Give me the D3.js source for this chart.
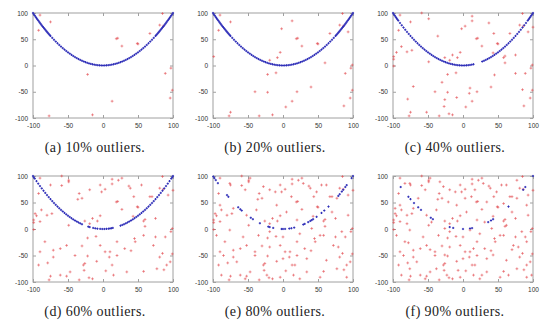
<!DOCTYPE html>
<html>
<head>
<meta charset="utf-8">
<script src="https://cdn.jsdelivr.net/npm/d3@7"></script>
<style>
  body { margin: 0; background: #fff; }
</style>
</head>
<body>
<div id="chart"></div>
<script>
// tick values shared by every panel
const ticks = [-100, -50, 0, 50, 100];

const captions = ["(a) 10% outliers.", "(b) 20% outliers.", "(c) 40% outliers.",
                  "(d) 60% outliers.", "(e) 80% outliers.", "(f) 90% outliers."];

// inliers (blue)
const inliersFull = [
  [-100,100],[-98.8,97.6],[-97.5,95.1],[-96.2,92.5],[-95,90.3],[-93.8,88],[-92.5,85.6],[-91.2,83.2],[-90,81],
  [-88.8,78.9],[-87.5,76.6],[-86.2,74.3],[-85,72.3],[-83.8,70.2],[-82.5,68.1],[-81.2,65.9],[-80,64],[-78.8,62.1],
  [-77.5,60.1],[-76.2,58.1],[-75,56.3],[-72.5,52.6],[-70,49],[-67.5,45.6],[-65,42.3],[-62.5,39.1],[-60,36],
  [-57.5,33.1],[-55,30.3],[-52.5,27.6],[-50,25],[-47.5,22.6],[-45,20.3],[-42.5,18.1],[-40,16],[-37.5,14.1],
  [-35,12.3],[-32.5,10.6],[-30,9],[-27.5,7.6],[-25,6.3],[-22.5,5.1],[-20,4],[-17.5,3.1],[-15,2.3],[-12.5,1.6],
  [-10,1],[-7.5,0.6],[-5,0.3],[-2.5,0.1],[0,0],[2.5,0.1],[5,0.3],[7.5,0.6],[10,1],[12.5,1.6],[15,2.3],[17.5,3.1],
  [20,4],[22.5,5.1],[25,6.3],[27.5,7.6],[30,9],[32.5,10.6],[35,12.3],[37.5,14.1],[40,16],[42.5,18.1],[45,20.3],
  [47.5,22.6],[50,25],[52.5,27.6],[55,30.3],[57.5,33.1],[60,36],[62.5,39.1],[65,42.3],[67.5,45.6],[70,49],
  [72.5,52.6],[75,56.3],[76.2,58.1],[77.5,60.1],[78.8,62.1],[80,64],[81.2,65.9],[82.5,68.1],[83.8,70.2],[85,72.3],
  [86.2,74.3],[87.5,76.6],[88.8,78.9],[90,81],[91.2,83.2],[92.5,85.6],[93.8,88],[95,90.3],[96.2,92.5],[97.5,95.1],
  [98.8,97.6],[100,100]
];

const inliersC = [
  [-100,100],[-98.8,97.6],[-97.5,95.1],[-96.2,92.5],[-95,90.3],[-93.8,88],[-92.5,85.6],[-90,81],[-87.5,76.6],
  [-85,72.3],[-82.5,68.1],[-80,64],[-77.5,60.1],[-75,56.3],[-72.5,52.6],[-70,49],[-67.5,45.6],[-65,42.3],
  [-62.5,39.1],[-60,36],[-57.5,33.1],[-55,30.3],[-52.5,27.6],[-50,25],[-47.5,22.6],[-45,20.3],[-42.5,18.1],
  [-40,16],[-37.5,14.1],[-35,12.3],[-32.5,10.6],[-30,9],[-27.5,7.6],[-25,6.3],[-22.5,5.1],[-20,4],[-17.5,3.1],
  [-15,2.3],[-12.5,1.6],[-10,1],[-7.5,0.6],[-5,0.3],[-2.5,0.1],[0,0],[2.5,0.1],[5,0.3],[7.5,0.6],[10,1],
  [12.5,1.6],[15,2.3],[27.5,7.6],[30,9],[32.5,10.6],[35,12.3],[37.5,14.1],[40,16],[42.5,18.1],[45,20.3],
  [47.5,22.6],[50,25],[52.5,27.6],[55,30.3],[57.5,33.1],[60,36],[62.5,39.1],[65,42.3],[67.5,45.6],[70,49],
  [72.5,52.6],[75,56.3],[77.5,60.1],[80,64],[82.5,68.1],[85,72.3],[87.5,76.6],[90,81],[92.5,85.6],[93.8,88],
  [95,90.3],[96.2,92.5],[97.5,95.1],[98.8,97.6],[100,100]
];

const inliersD = [
  [-100,100],[-98.8,97.6],[-97.5,95.1],[-95,90.3],[-92.5,85.6],[-90,81],[-87.5,76.6],[-85,72.3],[-82.5,68.1],
  [-80,64],[-77.5,60.1],[-75,56.3],[-72.5,52.6],[-70,49],[-67.5,45.6],[-65,42.3],[-62.5,39.1],[-60,36],
  [-57.5,33.1],[-55,30.3],[-52.5,27.6],[-50,25],[-47.5,22.6],[-45,20.3],[-42.5,18.1],[-40,16],[-37.5,14.1],
  [-35,12.3],[-32.5,10.6],[-30,9],[-21,4.4],[-19,3.6],[-14,2],[-11,1.2],[-8,0.6],[-4,0.2],[-1,0],[2,0],[5,0.3],
  [8,0.6],[10,1],[12,1.4],[14,2],[25,6.3],[27.5,7.6],[30,9],[32.5,10.6],[35,12.3],[37.5,14.1],[40,16],
  [42.5,18.1],[45,20.3],[47.5,22.6],[50,25],[52.5,27.6],[55,30.3],[57.5,33.1],[60,36],[62.5,39.1],[65,42.3],
  [67.5,45.6],[70,49],[72.5,52.6],[75,56.3],[77.5,60.1],[80,64],[82.5,68.1],[85,72.3],[87.5,76.6],[90,81],
  [92.5,85.6],[95,90.3],[97.5,95.1],[98.8,97.6],[100,100]
];

const inliersE = [
  [-99.5,99],[-98,96],[-96,92.2],[-93,86.5],[-80,64],[-78,60.8],[-64,41],[-61,37.2],[-59,34.8],[-46,21.2],
  [-43,18.5],[-33,10.9],[-21,4.4],[-19,3.6],[-14,2],[-2,0],[0,0],[3,0.1],[9,0.8],[12,1.4],[16,2.6],[29,8.4],
  [31,9.6],[36,13],[39,15.2],[41,16.8],[43,18.5],[48,23],[55,30.3],[59,34.8],[65,42.3],[79,62.4],[81,65.6],
  [84,70.6],[86,74],[89,79.2],[91,82.8],[98,96],[100,100]
];

const inliersF = [
  [-89,79.2],[-78,60.8],[-75,56.3],[-70,49],[-64,41],[-60,36],[-46,21.2],[-43,18.5],[-19,3.6],[-14,2],
  [0,0],[10,1],[13,1.7],[36,13],[40,16],[43,18.5],[65,42.3],[86,74],[89,79.2],[100,100]
];

// outliers (red); each panel adds new ones on top of the previous panel's
const outliersA = [
  [-90,96],[-75,83],[-92,67],[-22,-17],[-77,-96],[-15,-94],[13,-68],[19,51],[21,52],[27,37],
  [49,42],[50,41],[67,61],[81,77],[85,99],[89,-15],[97,-5],[96,-62],[99,-47],[86,75]
];
const outliersB = [
  [13,85],[-2,70],[-4,25],[-8,15],[-19,10],[60,5],[-10,-14],[99,1],[-40,-50],[-22,-51],
  [20,-50],[40,-41],[4,-79],[87,-77],[-75,-89],[-34,-96],[93,64],[-99,17]
];
const outliersC = [
  [-59,100],[-49,89],[13,94],[3,75],[37,81],[100,73],[44,61],[-36,56],[-88,36],[-95,25],
  [-73,29],[-80,26],[-99,12],[-99,-1],[-49,7],[-26,15],[-15,20],[60,18],[75,20],[43,24],
  [45,-18],[75,-15],[-30,-32],[-71,-40],[10,-43],[9,-53],[85,-46],[-9,-61],[-79,-64],[-26,-65],
  [-27,-78],[-52,-89],[-20,-92],[58,15]
];
const outliersD = [
  [-59,82],[-49,92],[-34,67],[-30,58],[-19,74],[-4,83],[22,92],[27,96],[39,77],[55,83],
  [70,61],[-97,29],[-90,14],[-83,-24],[-61,-37],[-71,-53],[-90,-43],[-92,-68],[-52,-31],[-47,-81],
  [-28,-68],[-4,-31],[3,-43],[20,-24],[31,-37],[46,-24],[58,-12],[72,-31],[81,-53],[91,-68],
  [77,-75],[58,-80],[34,-81],[15,-87],[-61,-87]
];
const outliersE = [
  [-76,86],[-54,74],[-47,96],[-28,80],[-11,70],[12,61],[29,86],[48,70],[62,83],[77,58],
  [-90,45],[-71,39],[-52,26],[-38,36],[-9,45],[5,32],[20,17],[41,1],[70,32],[93,26],
  [-95,-12],[-76,-2],[-57,-15],[-35,-12],[-19,-5],[0,-15],[24,-9],[53,-12],[84,-5],
  [-85,-50],[-66,-62],[-40,-43],[-19,-34],[0,-56],[17,-68],[34,-56],[62,-59],[79,-34],
  [-88,-87],[-54,-94],[-23,-87],[-4,-91],[24,-94],[53,-91],[91,-91]
];
const outliersF = [
  [-83,86],[-64,58],[-33,89],[-21,51],[3,58],[17,74],[34,51],[58,48],[77,92],[91,45],
  [-97,39],[-80,10],[-45,13],[-26,1],[10,-2],[31,13],[62,7],
  [-78,-26],[-47,-39],[-26,-49],[15,-37],[43,-49],[70,-39],[91,-24],
  [-76,-75],[-38,-75],[-7,-78],[27,-87],[65,-87],[98,-87]
];

const outA = outliersA;
const outB = outA.concat(outliersB);
const outC = outB.concat(outliersC);
const outD = outC.concat(outliersD);
const outE = outD.concat(outliersE);
const outF = outE.concat(outliersF);

const panels = [
  { caption: captions[0], inliers: inliersFull, outliers: outA },
  { caption: captions[1], inliers: inliersFull, outliers: outB },
  { caption: captions[2], inliers: inliersC,    outliers: outC },
  { caption: captions[3], inliers: inliersD,    outliers: outD },
  { caption: captions[4], inliers: inliersE,    outliers: outE },
  { caption: captions[5], inliers: inliersF,    outliers: outF }
];

const width = 540, height = 320;
const plotW = 140;
const rows = [{ top: 13, bottom: 118 }, { top: 176, bottom: 282 }];
const fmt = d => String(d);   // keep hyphen minus like the original

const svg = d3.select("#chart").append("svg")
  .attr("width", width)
  .attr("height", height)
  .style("display", "block");

const plus = s => `M${-s},0H${s}M0,${-s}V${s}`;

panels.forEach((p, i) => {
  const col = i % 3, row = rows[Math.floor(i / 3)];
  const left = 33 + col * 180;

  const x = d3.scaleLinear().domain([-100, 100]).range([left, left + plotW]);
  const y = d3.scaleLinear().domain([-100, 100]).range([row.bottom, row.top]);

  const g = svg.append("g");

  // frame
  g.append("rect")
    .attr("x", x(-100)).attr("y", y(100))
    .attr("width", x(100) - x(-100)).attr("height", y(-100) - y(100))
    .attr("fill", "none").attr("stroke", "#a0a0a0").attr("stroke-width", 1);

  const styleAxis = sel => {
    sel.select(".domain").remove();
    sel.selectAll(".tick line").attr("stroke", "#a0a0a0");
    sel.selectAll("text").attr("fill", "#333")
      .style("font-family", "'Liberation Sans', Arial, sans-serif")
      .style("font-size", "6.5px");
  };

  g.append("g").attr("transform", `translate(0,${row.bottom})`)
    .call(d3.axisBottom(x).tickValues(ticks).tickSize(-3).tickPadding(5).tickFormat(fmt))
    .call(styleAxis);
  g.append("g").attr("transform", `translate(${left},0)`)
    .call(d3.axisLeft(y).tickValues(ticks).tickSize(-3).tickPadding(5).tickFormat(fmt))
    .call(styleAxis);
  g.append("g").attr("transform", `translate(0,${row.top})`)
    .call(d3.axisTop(x).tickValues(ticks).tickSize(-3).tickFormat(""))
    .call(styleAxis);
  g.append("g").attr("transform", `translate(${left + plotW},0)`)
    .call(d3.axisRight(y).tickValues(ticks).tickSize(-3).tickFormat(""))
    .call(styleAxis);

  // outliers
  g.append("g").selectAll("path")
    .data(p.outliers)
    .join("path")
    .attr("transform", d => `translate(${x(d[0])},${y(d[1])})`)
    .attr("d", plus(1.4))
    .attr("stroke", "#e3474d")
    .attr("stroke-opacity", 0.8)
    .attr("stroke-width", 0.7);

  // inliers
  g.append("g").selectAll("path")
    .data(p.inliers)
    .join("path")
    .attr("transform", d => `translate(${x(d[0])},${y(d[1])})`)
    .attr("d", plus(1.1))
    .attr("stroke", "#2f2fb8")
    .attr("stroke-width", 1);

  // caption
  svg.append("text")
    .attr("x", left + 62)
    .attr("y", row.bottom + 34)
    .attr("text-anchor", "middle")
    .attr("fill", "#222")
    .style("font-family", "'Liberation Serif', 'DejaVu Serif', serif")
    .style("font-size", "14px")
    .style("letter-spacing", "0.4px")
    .text(p.caption);
});
</script>
</body>
</html>
